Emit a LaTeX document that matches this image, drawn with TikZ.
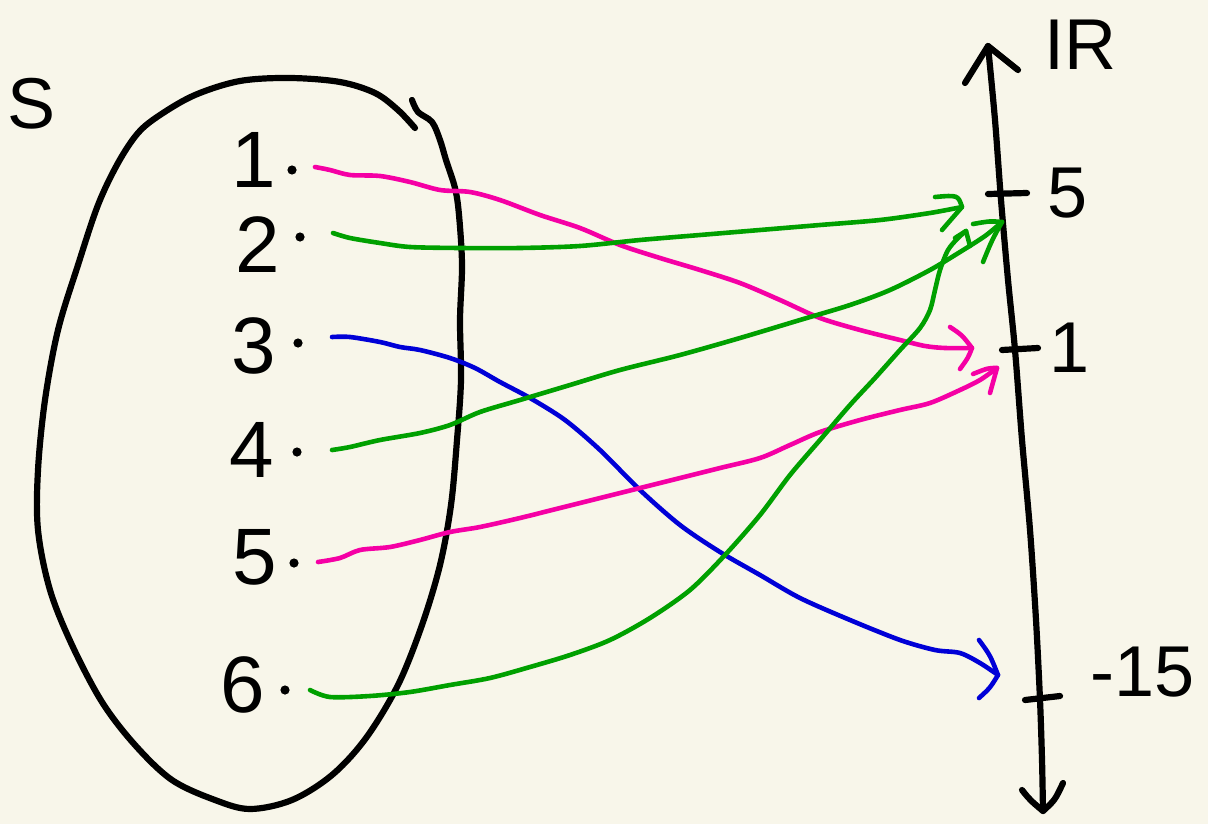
\documentclass[tikz,border=0pt]{standalone}
\usepackage{fontspec}
\setmainfont{Liberation Sans}
\definecolor{paper}{RGB}{248,246,234}
\definecolor{hpink}{RGB}{245,0,165}
\definecolor{hgreen}{RGB}{0,160,0}
\definecolor{hblue}{RGB}{0,0,215}
\tikzset{
  ink/.style={line width=3.1pt, line cap=round, line join=round},
  pen/.style={line width=2.3pt, line cap=round, line join=round},
  digit/.style={font=\fontsize{40}{40}\selectfont, inner sep=0pt},
  lab/.style={font=\fontsize{36}{36}\selectfont, inner sep=0pt},
  dotmark/.style={circle, fill=black, inner sep=0pt, minimum size=4.6pt}
}
\begin{document}
\begin{tikzpicture}[x=0.5pt,y=-0.5pt]
\fill[paper] (0,0) rectangle (1208,824);
\useasboundingbox (0,0) rectangle (1208,824);

% set S label
\node[lab] (S) at (32,104) {S};

% blob
\draw[ink] plot[smooth, tension=0.55] coordinates {
 (415,128) (398,110) (375,93) (340,82) (290,78) (240,81) (195,95) (160,115)
 (138,133) (118,163) (98,205) (78,265) (58,330) (45,400) (38,470) (38,530)
 (50,590) (72,645) (102,702) (135,745) (172,780) (215,800) (250,809)
 (292,800) (332,775) (366,738) (398,685) (422,625) (440,565) (451,505)
 (457,440) (461,380) (460,320) (462,265) (459,215) (455,188) (446,160)
 (440,140) (432,122) (418,112) (412,100)};

% elements
\node[digit] (n1) at (254,160) {1};
\node[digit] (n2) at (258,245) {2};
\node[digit] (n3) at (254,346) {3};
\node[digit] (n4) at (252,450) {4};
\node[digit] (n5) at (255,557) {5};
\node[digit] (n6) at (243,685) {6};
\node[dotmark] (d1) at (292,170) {};
\node[dotmark] (d2) at (300,237) {};
\node[dotmark] (d3) at (298,343) {};
\node[dotmark] (d4) at (297,452) {};
\node[dotmark] (d5) at (294,563) {};
\node[dotmark] (d6) at (285,690) {};

% real axis
\coordinate (top) at (988,46);
\coordinate (bot) at (1043,811);
\draw[ink] plot[smooth, tension=0.5] coordinates {
 (top) (995,120) (1001,200) (1008,280) (1015,350) (1022,440) (1030,530)
 (1036,620) (1040,700) (1042,760) (bot)};
\draw[ink] (965,83) -- (top) -- (1018,70);
\draw[ink] (1022,790) .. controls (1030,800) .. (bot) .. controls (1055,800) .. (1063,783);
% ticks
\coordinate (t5a) at (988,194);  \coordinate (t5b) at (1027,193);
\coordinate (t1a) at (1002,350); \coordinate (t1b) at (1038,348);
\coordinate (t15a) at (1025,700); \coordinate (t15b) at (1060,696);
\draw[ink] (t5a) -- (t5b);
\draw[ink] (t1a) -- (t1b);
\draw[ink] (t15a) -- (t15b);
\node[lab] (R) at (1080,45) {IR};
\node[lab] (v5) at (1068,193) {5};
\node[lab] (v1) at (1070,348) {1};
\node[lab] (v15) at (1143,672) {-15};

% arrows
\coordinate (a1) at (972,348);
\coordinate (a2) at (962,207);
\coordinate (a3) at (998,675);
\coordinate (a4) at (1002,222);
\coordinate (a5) at (997,368);
\coordinate (a6) at (966,231);

\draw[pen,hpink] plot[smooth, tension=0.5] coordinates {
 (315,167) (330,170) (350,175) (380,176) (410,182) (440,190) (470,192)
 (500,200) (540,215) (580,228) (620,245) (660,258) (700,270) (740,283)
 (780,300) (820,318) (860,330) (900,340) (925,346) (945,348) (a1)};
\draw[pen,hpink] (950,327) .. controls (962,335) .. (a1) .. controls (968,358) .. (960,369);

\draw[pen,hgreen] plot[smooth, tension=0.5] coordinates {
 (333,233) (350,238) (380,243) (410,247) (460,248) (520,248) (580,246)
 (640,240) (700,235) (760,230) (820,225) (880,220) (930,213) (a2)};
\draw[pen,hgreen] (935,197) .. controls (958,195) .. (a2) .. controls (955,215) .. (942,230);

\draw[pen,hblue] plot[smooth, tension=0.5] coordinates {
 (332,337) (350,337) (380,342) (400,347) (420,350) (450,358) (475,368)
 (500,382) (530,398) (565,420) (600,450) (640,490) (680,525) (720,552)
 (760,575) (800,598) (850,620) (900,640) (935,650) (960,653) (980,663) (a3)};
\draw[pen,hblue] (979,640) .. controls (990,655) .. (a3) .. controls (990,688) .. (979,698);

\draw[pen,hgreen] plot[smooth, tension=0.5] coordinates {
 (332,450) (350,447) (380,440) (420,433) (450,425) (480,412) (520,400)
 (570,385) (620,370) (680,355) (740,338) (800,320) (850,305) (890,290)
 (930,270) (960,252) (985,236) (a4)};
\draw[pen,hgreen] (973,224) .. controls (990,221) .. (a4) .. controls (992,240) .. (983,262);

\draw[pen,hpink] plot[smooth, tension=0.5] coordinates {
 (318,562) (340,558) (360,550) (390,547) (420,540) (450,532) (480,527)
 (520,518) (560,508) (600,498) (640,488) (680,478) (720,468) (760,458)
 (790,445) (820,432) (860,420) (900,410) (930,403) (960,390) (980,380) (a5)};
\draw[pen,hpink] (973,374) .. controls (988,368) .. (a5) .. controls (994,380) .. (990,393);

\draw[pen,hgreen] plot[smooth, tension=0.5] coordinates {
 (310,690) (330,697) (370,696) (410,692) (450,685) (490,678) (530,667)
 (570,655) (610,640) (650,618) (690,590) (725,555) (760,515) (790,475)
 (820,440) (850,405) (875,378) (900,350) (920,328) (930,310) (935,290)
 (940,270) (948,250) (958,238) (a6)};
\draw[pen,hgreen] (955,238) -- (a6) -- (970,246);
\end{tikzpicture}
\end{document}
